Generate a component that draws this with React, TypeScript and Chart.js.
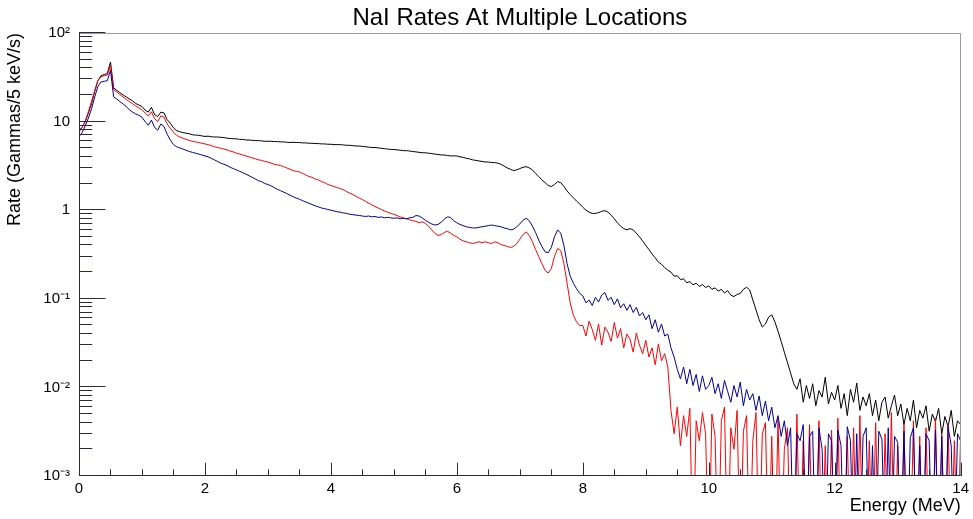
import React, { useEffect, useRef } from 'react';
import { Chart, registerables } from 'chart.js';

Chart.register(...registerables);

const TITLE = 'NaI Rates At Multiple Locations';
const X_TITLE = 'Energy (MeV)';
const Y_TITLE = 'Rate (Gammas/5 keV/s)';
const BIN_WIDTH = 0.05; // MeV per plotted bin, first bin at 0 MeV
const X_TICKS = [0, 2, 4, 6, 8, 10, 12, 14];
const Y_TICKS = [0.001, 0.01, 0.1, 1, 10, 100];
const Y_TICK_LABELS = ['10⁻³', '10⁻²', '10⁻¹', '1', '10', '10²'];
const NONE = 0.0001; // empty bin (falls below the 10^-3 floor)

const blackRate = [
  8.0, 8.6, 10.0, 12.5, 16.0, 22.0, 29.0, 33.0, 34.0, 35.0, 47.0, 24.0, 22.5, 21.2, 20.0, 19.0, 18.0, 17.2, 16.0, 15.4,
  14.8, 13.5, 12.8, 14.5, 12.0, 11.4, 12.8, 12.5, 10.5, 9.6, 8.5, 7.9, 7.7, 7.5, 7.4, 7.3, 7.1, 7.05, 7.0, 6.9,
  6.8, 6.85, 6.75, 6.7, 6.7, 6.65, 6.6, 6.5, 6.45, 6.4, 6.4, 6.3, 6.3, 6.2, 6.2, 6.15, 6.1, 6.1, 6.05, 6.0,
  6.0, 6.0, 5.95, 5.95, 5.9, 5.9, 5.85, 5.8, 5.85, 5.8, 5.8, 5.75, 5.75, 5.7, 5.7, 5.65, 5.65, 5.6, 5.6, 5.55,
  5.55, 5.5, 5.5, 5.5, 5.45, 5.4, 5.4, 5.35, 5.3, 5.3, 5.25, 5.2, 5.15, 5.1, 5.1, 5.05, 5.0, 4.95, 4.9, 4.85,
  4.85, 4.8, 4.75, 4.7, 4.7, 4.65, 4.6, 4.55, 4.5, 4.45, 4.45, 4.4, 4.35, 4.3, 4.25, 4.2, 4.2, 4.15, 4.1, 4.1,
  4.1, 4.0, 3.95, 3.85, 3.8, 3.7, 3.65, 3.6, 3.55, 3.5, 3.5, 3.45, 3.45, 3.4, 3.3, 3.15, 3.0, 2.9, 2.8, 2.85,
  2.95, 3.05, 3.1, 3.0, 2.85, 2.6, 2.4, 2.2, 2.05, 1.9, 1.85, 1.95, 2.1, 2.05, 1.85, 1.65, 1.5, 1.38, 1.27, 1.18,
  1.08, 1.0, 0.95, 0.92, 0.92, 0.94, 0.97, 0.99, 0.95, 0.88, 0.8, 0.72, 0.66, 0.62, 0.6, 0.62, 0.6, 0.55, 0.5, 0.45,
  0.4, 0.36, 0.32, 0.29, 0.26, 0.245, 0.225, 0.21, 0.2, 0.18, 0.182, 0.165, 0.168, 0.152, 0.156, 0.144, 0.15, 0.138, 0.145, 0.134,
  0.14, 0.128, 0.133, 0.122, 0.128, 0.116, 0.124, 0.11, 0.106, 0.112, 0.115, 0.128, 0.135, 0.126, 0.097, 0.075, 0.058, 0.048, 0.052, 0.062,
  0.066, 0.055, 0.043, 0.033, 0.025, 0.019, 0.0145, 0.011, 0.0095, 0.0125, 0.0068, 0.0105, 0.0075, 0.011, 0.0062, 0.0092, 0.0078, 0.013, 0.0065, 0.0088,
  0.0072, 0.0105, 0.0058, 0.0085, 0.0048, 0.0095, 0.0068, 0.0112, 0.0055, 0.0078, 0.0062, 0.0085, 0.0048, 0.0072, 0.0042, 0.0068, 0.0078, 0.0045, 0.0062, 0.0082,
  0.0048, 0.0065, 0.0038, 0.0058, 0.0042, 0.0072, 0.0035, 0.0055, 0.0045, 0.0062, 0.0032, 0.005, 0.0041, 0.0058, 0.003, 0.0047, 0.0036, 0.0055, 0.0028, 0.0042,
  0.0038,
];

const redRate = [
  7.6, 8.6, 10.2, 13.0, 17.0, 22.5, 29.0, 32.0, 33.0, 33.5, 43.0, 23.0, 21.5, 20.2, 19.0, 17.8, 16.8, 16.0, 15.0, 14.3,
  13.6, 12.5, 11.6, 12.9, 10.8, 10.0, 11.6, 11.2, 9.4, 8.4, 7.6, 7.0, 6.7, 6.5, 6.3, 6.15, 6.0, 5.9, 5.8, 5.7,
  5.6, 5.5, 5.35, 5.2, 5.1, 5.0, 4.9, 4.8, 4.65, 4.55, 4.4, 4.3, 4.2, 4.1, 4.0, 3.9, 3.8, 3.7, 3.65, 3.55,
  3.5, 3.4, 3.3, 3.25, 3.2, 3.1, 3.0, 2.9, 2.8, 2.75, 2.7, 2.6, 2.5, 2.4, 2.35, 2.25, 2.2, 2.1, 2.05, 1.95,
  1.9, 1.85, 1.8, 1.75, 1.7, 1.62, 1.56, 1.5, 1.43, 1.37, 1.32, 1.26, 1.2, 1.15, 1.1, 1.06, 1.02, 0.98, 0.95, 0.92,
  0.9, 0.87, 0.84, 0.82, 0.8, 0.78, 0.76, 0.75, 0.72, 0.74, 0.71, 0.66, 0.6, 0.55, 0.52, 0.53, 0.56, 0.58, 0.55, 0.52,
  0.5, 0.47, 0.45, 0.44, 0.43, 0.42, 0.43, 0.44, 0.43, 0.44, 0.43, 0.42, 0.44, 0.43, 0.41, 0.4, 0.39, 0.38, 0.39, 0.42,
  0.47, 0.53, 0.57, 0.52, 0.44, 0.36, 0.3, 0.25, 0.21, 0.195, 0.22, 0.3, 0.37, 0.35, 0.25, 0.15, 0.09, 0.065, 0.055, 0.05,
  0.05, 0.038, 0.056, 0.045, 0.034, 0.052, 0.03, 0.048, 0.042, 0.033, 0.054, 0.036, 0.046, 0.028, 0.04, 0.035, 0.025, 0.041, 0.03, 0.024,
  0.034, 0.022, 0.028, 0.018, 0.031, 0.02, 0.024, 0.017, 0.0055, 0.003, 0.006, 0.0022, 0.0048, 0.0028, 0.0058, NONE, 0.0042, 0.0025, 0.0052, 0.003,
  NONE, 0.005, 0.0028, NONE, 0.0042, 0.006, NONE, 0.0035, 0.002, 0.0055, NONE, 0.0032, 0.0048, NONE, 0.0025, 0.0052, NONE, 0.003, 0.004, NONE,
  0.0028, NONE, 0.0045, NONE, 0.002, 0.0035, NONE, NONE, 0.005, NONE, 0.0025, NONE, 0.0038, NONE, NONE, 0.0042, NONE, 0.0022, NONE, 0.0033,
  NONE, 0.0045, NONE, NONE, 0.0028, NONE, 0.0035, NONE, 0.0048, NONE, NONE, 0.0025, NONE, 0.004, NONE, NONE, 0.003, NONE, 0.0052, NONE,
  0.0022, NONE, 0.0038, NONE, NONE, 0.0042, NONE, 0.0028, NONE, 0.0035, NONE, NONE, 0.0045, NONE, 0.003, NONE, 0.0038, NONE, 0.0025, NONE,
  0.003,
];

const blueRate = [
  6.8, 7.5, 9.0, 11.0, 14.0, 19.0, 25.0, 28.0, 28.5, 29.0, 38.0, 19.0, 18.0, 16.8, 15.8, 14.8, 13.6, 12.8, 12.2, 11.8,
  11.2, 10.0, 9.1, 10.4, 8.6, 8.0, 9.4, 8.8, 7.2, 6.2, 5.5, 5.2, 5.05, 4.9, 4.75, 4.6, 4.5, 4.4, 4.3, 4.2,
  4.1, 4.0, 3.85, 3.7, 3.55, 3.4, 3.3, 3.2, 3.05, 2.95, 2.85, 2.75, 2.65, 2.55, 2.45, 2.35, 2.25, 2.15, 2.1, 2.0,
  1.95, 1.88, 1.8, 1.72, 1.66, 1.6, 1.54, 1.48, 1.42, 1.37, 1.33, 1.28, 1.24, 1.2, 1.16, 1.12, 1.09, 1.06, 1.04, 1.02,
  1.0, 0.98, 0.96, 0.95, 0.93, 0.92, 0.9, 0.89, 0.88, 0.87, 0.86, 0.85, 0.86, 0.84, 0.85, 0.83, 0.84, 0.82, 0.83, 0.82,
  0.81, 0.82, 0.8, 0.81, 0.8, 0.82, 0.83, 0.87, 0.86, 0.82, 0.77, 0.73, 0.7, 0.68, 0.69, 0.73, 0.79, 0.84, 0.83, 0.76,
  0.72, 0.69, 0.67, 0.65, 0.64, 0.63, 0.63, 0.64, 0.65, 0.66, 0.67, 0.68, 0.67, 0.66, 0.65, 0.63, 0.62, 0.6, 0.61, 0.65,
  0.7, 0.77, 0.81, 0.76, 0.66, 0.56, 0.46, 0.39, 0.34, 0.33, 0.38, 0.5, 0.6, 0.55, 0.4, 0.25, 0.18, 0.15, 0.13, 0.115,
  0.108, 0.09, 0.097, 0.084, 0.104, 0.092, 0.11, 0.118, 0.096, 0.104, 0.086, 0.1, 0.079, 0.088, 0.074, 0.086, 0.07, 0.08, 0.064, 0.07,
  0.058, 0.066, 0.046, 0.058, 0.042, 0.052, 0.038, 0.04, 0.028, 0.022, 0.016, 0.0125, 0.017, 0.011, 0.016, 0.0105, 0.014, 0.009, 0.0135, 0.0095,
  0.0105, 0.013, 0.0085, 0.011, 0.0075, 0.012, 0.009, 0.0068, 0.0105, 0.0078, 0.0115, 0.0062, 0.0095, 0.0072, 0.0085, 0.0055, 0.008, 0.0048, 0.007, 0.0042,
  0.006, 0.0035, 0.0048, 0.0028, 0.0042, 0.0022, 0.0035, NONE, 0.003, 0.0025, 0.0038, NONE, 0.0028, 0.0032, NONE, 0.0035, 0.002, NONE, 0.003, 0.0025,
  NONE, 0.0033, 0.0022, NONE, 0.0036, 0.0025, NONE, 0.003, NONE, 0.0028, 0.0035, NONE, 0.0022, NONE, 0.0032, 0.0026, NONE, 0.0035, NONE, 0.0028,
  0.0024, NONE, 0.0032, NONE, 0.0027, 0.0035, NONE, 0.0022, NONE, 0.003, 0.0025, NONE, 0.0033, NONE, 0.0028, NONE, 0.0036, 0.0022, NONE, 0.003,
  0.0025,
];

const FONT = "'Liberation Sans', Arial, Helvetica, sans-serif";

const toPoints = (arr: number[]) => arr.map((v, i) => ({ x: +(i * BIN_WIDTH).toFixed(4), y: v }));

const rootFrame = {
  id: 'rootFrame',
  afterDraw(chart: any) {
    const { ctx, chartArea, scales } = chart;
    const { left, right, top, bottom } = chartArea;
    const xs = scales.x;
    const ys = scales.y;
    const yMajor = (right - left) * 0.03;
    const xMajor = (bottom - top) * 0.03;
    ctx.save();
    ctx.lineWidth = 1;
    ctx.strokeStyle = '#9a9a9a';
    ctx.beginPath();
    ctx.moveTo(left, Math.round(top) + 0.5);
    ctx.lineTo(right, Math.round(top) + 0.5);
    ctx.moveTo(Math.round(right) - 0.5, top);
    ctx.lineTo(Math.round(right) - 0.5, bottom);
    ctx.stroke();

    ctx.strokeStyle = '#2a2a40';
    ctx.beginPath();
    ctx.moveTo(Math.round(left) + 0.5, top);
    ctx.lineTo(Math.round(left) + 0.5, bottom);
    ctx.moveTo(left, Math.round(bottom) - 0.5);
    ctx.lineTo(right, Math.round(bottom) - 0.5);
    const lo = Math.floor(Math.log10(ys.min));
    const hi = Math.ceil(Math.log10(ys.max));
    for (let e = lo; e <= hi; e++) {
      for (let m = 1; m <= 9; m++) {
        const v = m * Math.pow(10, e);
        if (v < ys.min * 0.999 || v > ys.max * 1.001) continue;
        const py = Math.round(ys.getPixelForValue(v)) - 0.5;
        const len = m === 1 ? yMajor : yMajor / 2;
        ctx.moveTo(left, py);
        ctx.lineTo(left + len, py);
      }
    }
    for (let v = xs.min; v <= xs.max + 1e-9; v += 0.5) {
      const px = Math.round(xs.getPixelForValue(v)) + 0.5;
      const len = Math.abs(v % 2) < 1e-9 ? xMajor : xMajor / 2;
      ctx.moveTo(px, bottom);
      ctx.lineTo(px, bottom - len);
    }
    ctx.stroke();
    ctx.restore();
  },
};

export default function App() {
  const ref = useRef<HTMLCanvasElement>(null);
  useEffect(() => {
    if (!ref.current) return;
    Chart.defaults.font.family = FONT;
    Chart.defaults.color = '#000';
    const ds = (label: string, arr: number[], color: string) => ({
      label,
      data: toPoints(arr),
      borderColor: color,
      backgroundColor: color,
      borderWidth: 1,
      pointRadius: 0,
      tension: 0,
      fill: false,
    });
    const chart = new Chart(ref.current, {
      type: 'line',
      data: {
        datasets: [
          ds('Location C', blueRate, '#00009c'),
          ds('Location B', redRate, '#ff0000'),
          ds('Location A', blackRate, '#000000'),
        ],
      },
      options: {
        responsive: false,
        animation: false,
        devicePixelRatio: 1,
        layout: { padding: { top: 0, right: 11, bottom: 0, left: 0 } },
        plugins: {
          legend: { display: false },
          tooltip: { enabled: false },
          title: {
            display: true,
            text: TITLE,
            fullSize: false,
            color: '#000',
            font: { family: FONT, size: 24, weight: 'normal', lineHeight: 1.2 },
            padding: { top: 4.2, bottom: 0 },
          },
        },
        scales: {
          x: {
            type: 'linear',
            min: 0,
            max: 14,
            afterFit: (s: any) => { s.height = 43; },
            afterBuildTicks: (s: any) => { s.ticks = X_TICKS.map((v) => ({ value: v })); },
            grid: { display: false, drawTicks: false },
            border: { display: false },
            ticks: { padding: 4, color: '#000', font: { family: FONT, size: 15 }, maxRotation: 0, autoSkip: false },
            title: {
              display: true,
              text: X_TITLE,
              align: 'end',
              color: '#000',
              font: { family: FONT, size: 18 },
              padding: { top: 0, bottom: 2 },
            },
          },
          y: {
            type: 'logarithmic',
            min: 0.001,
            max: 100,
            afterFit: (s: any) => { s.width = 79; },
            afterBuildTicks: (s: any) => { s.ticks = Y_TICKS.map((v) => ({ value: v })); },
            grid: { display: false, drawTicks: false },
            border: { display: false },
            ticks: {
              padding: 9,
              color: '#000',
              autoSkip: false,
              font: { family: FONT, size: 15 },
              callback: (_v: any, i: number) => Y_TICK_LABELS[i] ?? '',
            },
            title: {
              display: true,
              text: Y_TITLE,
              align: 'end',
              color: '#000',
              font: { family: FONT, size: 18 },
              padding: { top: 4, bottom: 0 },
            },
          },
        },
      } as any,
      plugins: [rootFrame],
    });
    return () => chart.destroy();
  }, []);
  return (
    <div style={{ position: 'absolute', left: 0, top: 0, width: 973, height: 519, background: '#fff' }}>
      <canvas ref={ref} width={973} height={519} style={{ width: 973, height: 519, display: 'block' }} />
    </div>
  );
}
